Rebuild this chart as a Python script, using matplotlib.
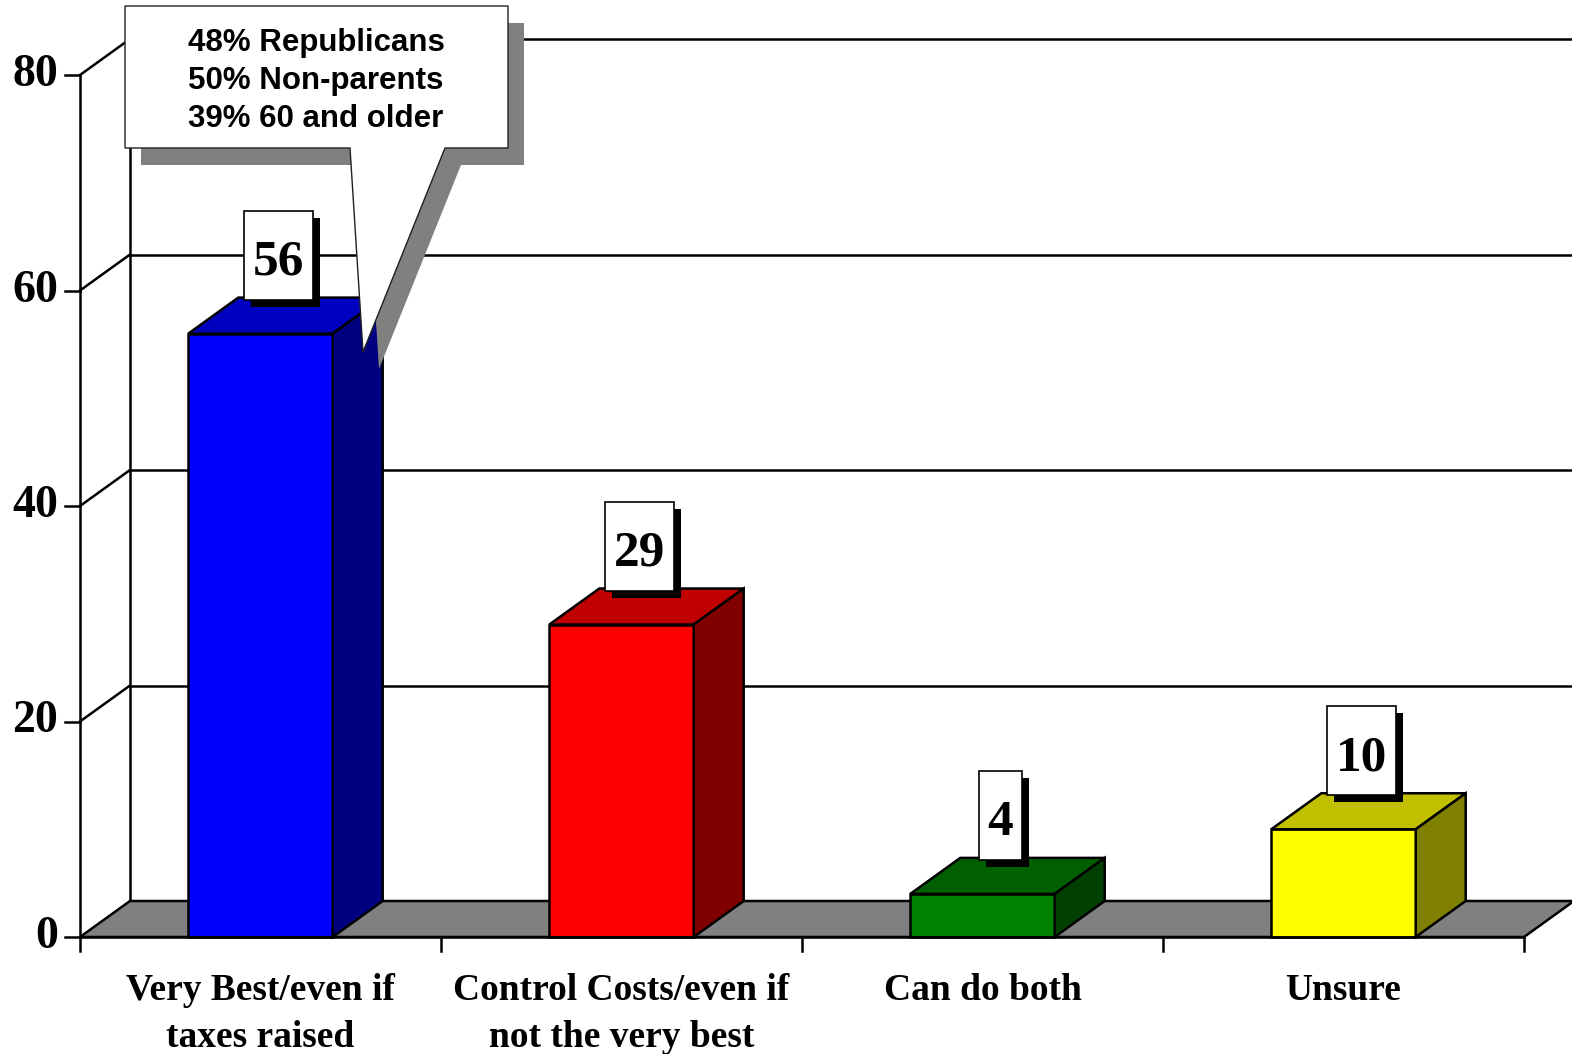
import matplotlib.pyplot as plt
from matplotlib.patches import Polygon, Rectangle

categories = ["Very Best/even if\ntaxes raised", "Control Costs/even if\nnot the very best",
              "Can do both", "Unsure"]
values = [56, 29, 4, 10]
front_colors = ["#0000FF", "#FF0000", "#008000", "#FFFF00"]
top_colors = ["#0000C0", "#C00000", "#006000", "#C0C000"]
side_colors = ["#000080", "#800000", "#004000", "#808000"]
y_ticks = [0, 20, 40, 60, 80]
callout_lines = ["48% Republicans", "50% Non-parents", "39% 60 and older"]

# pseudo-3d geometry (data units)
PX_X = 361.0      # pixels per category
PX_Y = 10.775     # pixels per value unit
DX = 50 / PX_X
DY = 36 / PX_Y
W = 0.40
SERIF = "Liberation Serif"
SANS = "Liberation Sans"

fig = plt.figure(figsize=(15.72, 10.54), dpi=100)
ax = fig.add_axes([0, 0, 1, 1])
ax.set_xlim(-260.5 / PX_X, (1572 - 260.5) / PX_X)
ax.set_ylim(-(1054 - 937) / PX_Y, 937 / PX_Y)
ax.axis("off")

x0 = -0.5
x1 = len(categories) - 0.5
xr = x1 + DX + 0.5
lw = 1.8

# back wall grid + diagonals + left wall edge
for t in y_ticks:
    if t > 0:
        ax.plot([x0 + DX, xr], [t + DY, t + DY], color="black", lw=lw, zorder=1)
        ax.plot([x0, x0 + DX], [t, t + DY], color="black", lw=lw, zorder=1)
    ax.plot([x0 - 15 / PX_X, x0], [t, t], color="black", lw=lw, zorder=5)
    ax.text(x0 - 22 / PX_X, t, str(t), ha="right", va="center", fontsize=33,
            fontweight="bold", family=SERIF)
ax.plot([x0 + DX, x0 + DX], [DY, y_ticks[-1] + DY], color="black", lw=lw, zorder=1)

# floor
floor = Polygon([(x0, 0), (x1, 0), (x1 + DX, DY), (x0 + DX, DY)], closed=True,
                facecolor="#808080", edgecolor="black", lw=lw, zorder=2)
ax.add_patch(floor)

# front axes
ax.plot([x0, x0], [0, y_ticks[-1]], color="black", lw=lw, zorder=5)
ax.plot([x0, x1], [0, 0], color="black", lw=lw, zorder=5)
for k in range(len(categories) + 1):
    ax.plot([x0 + k, x0 + k], [0, -14 / PX_Y], color="black", lw=lw, zorder=5)

# bars
for i, v in enumerate(values):
    l, r = i - W / 2, i + W / 2
    ax.add_patch(Rectangle((l, 0), W, v, facecolor=front_colors[i], edgecolor="black",
                           lw=lw, zorder=3))
    ax.add_patch(Polygon([(l, v), (r, v), (r + DX, v + DY), (l + DX, v + DY)],
                         facecolor=top_colors[i], edgecolor="black", lw=lw, zorder=3))
    ax.add_patch(Polygon([(r, 0), (r + DX, DY), (r + DX, v + DY), (r, v)],
                         facecolor=side_colors[i], edgecolor="black", lw=lw, zorder=3))

# category labels
for i, c in enumerate(categories):
    ax.text(i, -36 / PX_Y, c, ha="center", va="top", fontsize=27, fontweight="bold",
            family=SERIF, linespacing=1.45)

# value label boxes
fig.canvas.draw()
renderer = fig.canvas.get_renderer()
for i, v in enumerate(values):
    bottom = v + DY - 2 / PX_Y
    cx = i + 0.05
    t = ax.text(cx, bottom + 25 / PX_Y, str(v), ha="center", va="baseline", fontsize=37,
                fontweight="bold", family=SERIF, zorder=8)
    wpx = t.get_window_extent(renderer).width + 18
    bw = wpx / PX_X
    bh = 89 / PX_Y
    ax.add_patch(Rectangle((cx - bw / 2 + 7 / PX_X, bottom - 7 / PX_Y), bw, bh,
                           facecolor="black", edgecolor="none", zorder=6))
    ax.add_patch(Rectangle((cx - bw / 2, bottom), bw, bh, facecolor="white",
                           edgecolor="black", lw=1.2, zorder=7))

# callout pointing at first bar
bx0, bx1 = (125 - 260.5) / PX_X, (508 - 260.5) / PX_X
by_top, by_bot = (937 - 6) / PX_Y, (937 - 148) / PX_Y
p1, p2 = (350 - 260.5) / PX_X, (445 - 260.5) / PX_X
tip = ((363 - 260.5) / PX_X, (937 - 352) / PX_Y)
shape = [(bx0, by_top), (bx1, by_top), (bx1, by_bot), (p2, by_bot), tip, (p1, by_bot),
         (bx0, by_bot)]
sx, sy = 16 / PX_X, -17 / PX_Y
ax.add_patch(Polygon([(x + sx, y + sy) for x, y in shape], facecolor="#808080",
                     edgecolor="none", zorder=9))
ax.add_patch(Polygon(shape, facecolor="white", edgecolor="#202020", lw=1.0, zorder=10))
ax.text((bx0 + bx1) / 2, (937 - 81) / PX_Y, "\n".join(callout_lines), ha="center",
        va="center", multialignment="left", fontsize=22.5, fontweight="bold",
        family=SANS, linespacing=1.36, zorder=11)

plt.savefig("out.png", dpi=100)
